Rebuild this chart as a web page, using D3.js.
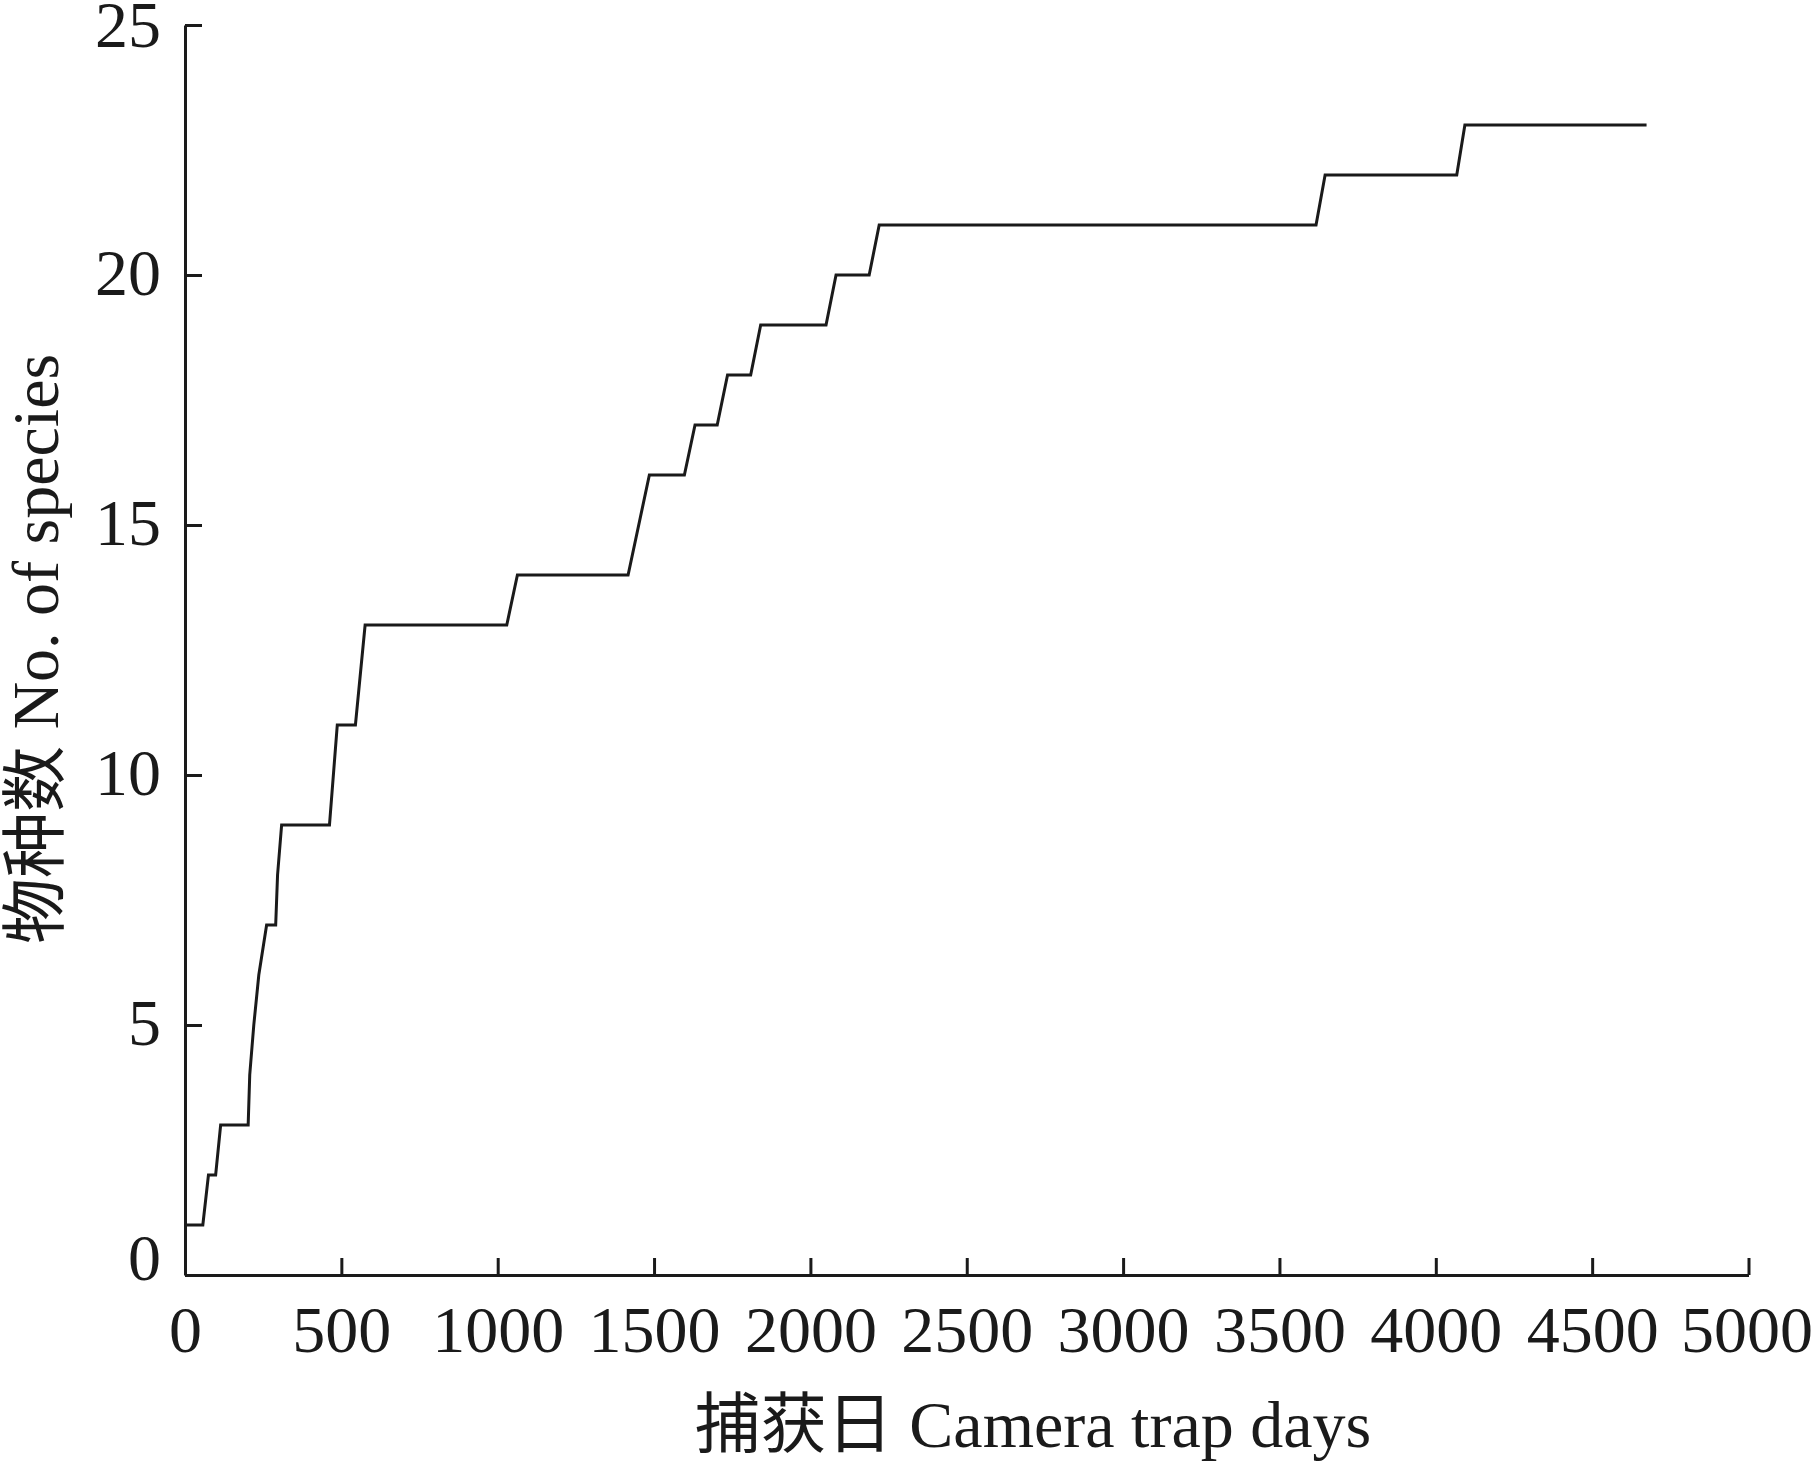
<!DOCTYPE html>
<html>
<head>
<meta charset="utf-8">
<script src="https://cdn.jsdelivr.net/npm/d3@7"></script>
<style>
  html, body { margin: 0; padding: 0; background: #fff; }
  svg { display: block; }
  text { font-family: "Liberation Serif", "Times New Roman", "Noto Sans CJK SC", serif; fill: #1a1a1a; }
</style>
</head>
<body>
<svg id="chart" width="1812" height="1461"></svg>
<script>
// Camera trap days (x) and cumulative number of species (y)
const days    = [0, 57, 75, 98, 114, 202, 207, 220, 236, 261, 290, 296, 309, 462, 487, 545, 576, 1029, 1063, 1417, 1485, 1597, 1631, 1702, 1735, 1809, 1841, 2050, 2082, 2188, 2220, 3617, 3646, 4067, 4093, 4674];
const species = [1, 1, 2, 2, 3, 3, 4, 5, 6, 7, 7, 8, 9, 9, 11, 11, 13, 13, 14, 14, 16, 16, 17, 17, 18, 18, 19, 19, 20, 20, 21, 21, 22, 22, 23, 23];
const xTicks = [0, 500, 1000, 1500, 2000, 2500, 3000, 3500, 4000, 4500, 5000];
const yTicks = [0, 5, 10, 15, 20, 25];
const xTitle = "捕获日 Camera trap days";
const yTitle = "物种数 No. of species";

const svg = d3.select("#chart");
const mLeft = 185, mRight = 1748.5, mTop = 25, mBottom = 1275;
const ink = "#1a1a1a";

const x = d3.scaleLinear().domain([0, 5000]).range([mLeft, mRight]);
const y = d3.scaleLinear().domain([0, 25]).range([mBottom, mTop]);

// X axis
const gx = svg.append("g")
  .attr("transform", `translate(0,${mBottom})`)
  .call(d3.axisBottom(x).tickValues(xTicks).tickSizeInner(-17).tickSizeOuter(0).tickPadding(0).tickFormat(d3.format("d")));
gx.select(".domain").attr("stroke", ink).attr("stroke-width", 3);
gx.selectAll(".tick line").attr("stroke", ink).attr("stroke-width", 3);
gx.selectAll(".tick text")
  .attr("y", 77).attr("dy", null)
  .attr("dx", d => d === 5000 ? -2 : 0)
  .style("font-size", "66px").style("fill", ink);

// Y axis
const gy = svg.append("g")
  .attr("transform", `translate(${mLeft},0)`)
  .call(d3.axisLeft(y).tickValues(yTicks).tickSizeInner(-17).tickSizeOuter(0).tickPadding(0).tickFormat(d3.format("d")));
gy.select(".domain").attr("stroke", ink).attr("stroke-width", 3);
gy.selectAll(".tick line").attr("stroke", ink).attr("stroke-width", 3);
gy.selectAll(".tick text")
  .attr("x", -24).attr("dy", null)
  .attr("y", d => d === 0 ? 4 : (d === 25 ? 21 : 19))
  .style("font-size", "66px").style("fill", ink);

// Line
const line = d3.line().x((d, i) => x(days[i])).y((d, i) => y(species[i]));
svg.append("path")
  .datum(species)
  .attr("d", line)
  .attr("fill", "none")
  .attr("stroke", ink)
  .attr("stroke-width", 3)
  .attr("stroke-linejoin", "miter");

// Titles
svg.append("text")
  .attr("x", 1033).attr("y", 1447)
  .attr("text-anchor", "middle")
  .style("font-size", "66px")
  .text(xTitle);

svg.append("text")
  .attr("transform", "translate(58,649) rotate(-90)")
  .attr("text-anchor", "middle")
  .style("font-size", "66px")
  .text(yTitle);
</script>
</body>
</html>
